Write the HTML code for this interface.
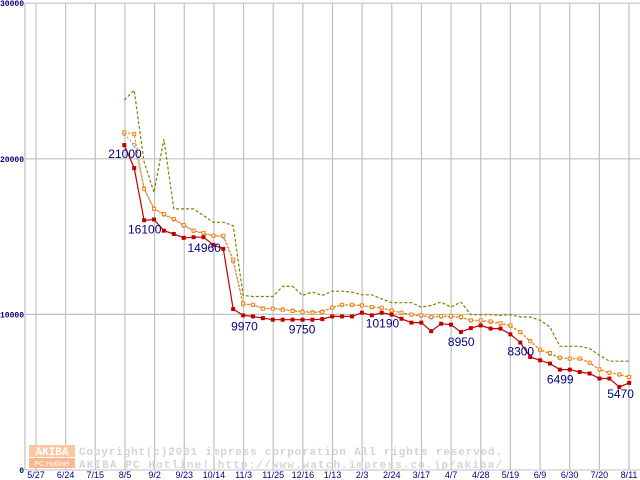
<!DOCTYPE html>
<html><head><meta charset="utf-8"><style>
body{margin:0;background:#fff;}
svg{display:block;}
</style></head><body>
<svg id="chart" width="640" height="480" xmlns="http://www.w3.org/2000/svg" font-family="Liberation Sans, sans-serif">
<g id="grid"></g>
<g id="wm">
  <rect x="29" y="445" width="46" height="12" fill="#f9c8a0"/>
  <text x="52" y="455" font-size="11" font-weight="bold" fill="#fff" text-anchor="middle" font-family="Liberation Mono, monospace">AKIBA</text>
  <rect x="29" y="458" width="46" height="10" fill="#f9b890"/>
  <text x="52" y="466" font-size="7" fill="#fff" text-anchor="middle">PC Hotline!</text>
  <text x="79" y="455" font-size="11" font-weight="bold" fill="#d4d4d4" font-family="Liberation Mono, monospace" textLength="423">Copyright(c)2001 impress corporation All rights reserved.</text>
  <text x="79" y="468" font-size="11" font-weight="bold" fill="#d4d4d4" font-family="Liberation Mono, monospace" textLength="423">AKIBA PC Hotline!  http://www.watch.impress.co.jp/akiba/</text>
</g>
<g id="series"></g>
<g id="labels"></g>
</svg>
<script>
const xTickLabels=["5/27","6/24","7/15","8/5","9/2","9/23","10/14","11/3","11/25","12/16","1/13","2/3","2/24","3/17","4/7","4/28","5/19","6/9","6/30","7/20","8/11"];
const yTicks=[0,10000,20000,30000];
const minPrice=[20880,19400,16050,16100,15380,15170,14920,14960,14960,14470,14210,10340,9940,9870,9760,9660,9660,9660,9660,9660,9700,9870,9870,9870,10110,9940,10110,9990,9720,9470,9470,8920,9400,9340,8870,9120,9290,9090,9090,8720,8190,7260,7050,6840,6450,6450,6300,6200,5880,5880,5340,5600];
const avgPrice=[21700,21600,18060,16780,16450,16130,15750,15380,15230,15060,15060,13520,10690,10620,10370,10370,10300,10220,10150,10110,10150,10430,10620,10620,10580,10470,10430,10260,10110,9990,9940,9830,9890,9890,9830,9620,9620,9550,9440,9290,8870,8270,7740,7520,7220,7160,7160,6900,6470,6260,6150,5980];
const midPrice=[21600,20900,18100,16800,16400,16100,15700,15350,15200,15050,15000,13400,10650,10600,10400,10380,10330,10250,10200,10150,10200,10450,10600,10600,10560,10450,10400,10240,10100,9970,9900,9800,9850,9850,9800,9600,9580,9500,9400,9250,8850,8300,7700,7450,7200,7150,7150,6880,6450,6250,6120,5960];
const maxPrice=[23780,24400,19800,17840,21260,16780,16780,16780,16350,15920,15920,15700,11220,11150,11150,11150,11800,11800,11220,11430,11220,11490,11490,11430,11260,11260,11000,10750,10750,10750,10470,10580,10790,10470,10790,9980,9980,9980,9940,9980,9830,9830,9620,9190,7950,7950,7950,7800,7370,6990,6990,6990];
const labelIdx=[0,3,8,12,16,25,34,39,44,51];
const labelText=["21000","16100","14960","9970","9750","10190","8950","8300","6499","5470"];

const NS="http://www.w3.org/2000/svg";
const X0=25,Y0=470,YTOP=3.2,YMAX=30000;
const gridX=i=>36+i*29.65;
const px=i=>124.3+i*9.9;
const py=v=>Y0-(v/YMAX)*(Y0-YTOP);
function mk(tag,attrs,parent){const e=document.createElementNS(NS,tag);for(const k in attrs)e.setAttribute(k,attrs[k]);parent.appendChild(e);return e;}
const grid=document.getElementById('grid');
xTickLabels.forEach((t,i)=>{
  const l=mk('line',{x1:gridX(i),x2:gridX(i),y1:YTOP,y2:Y0,stroke:'#c0c0c0','stroke-width':1.2},grid);
  
  
  const tx=mk('text',{x:gridX(i),y:478,'font-size':9,fill:'#000080','text-anchor':'middle'},grid);
  tx.textContent=t;
  
  
});
yTicks.forEach(v=>{
  if(v>0){
    const l=mk('line',{x1:X0,x2:640,y1:py(v),y2:py(v),stroke:'#c0c0c0','stroke-width':1.2},grid);
    
    
  }
  const tx=mk('text',{x:X0-1,y:py(v)+3,'font-size':8,'font-weight':'bold',fill:'#000080','text-anchor':'end','font-family':'Liberation Mono, monospace'},grid);
  tx.textContent=String(v);
  
  
});
const ax=mk('line',{x1:X0,x2:X0,y1:YTOP,y2:Y0,stroke:'#c0c0c0','stroke-width':1.2},grid);


const ax2=mk('line',{x1:X0,x2:640,y1:Y0,y2:Y0,stroke:'#c0c0c0','stroke-width':1},grid);



const sg=document.getElementById('series');
function series(data,color,dash,marker,name){
  const pts=data.map((v,i)=>px(i).toFixed(1)+','+py(v).toFixed(1)).join(' ');
  const pl=mk('polyline',{points:pts,fill:'none',stroke:color,'stroke-width':1.2,'stroke-dasharray':dash},sg);
  
  
  if(!marker)return;
  data.forEach((v,i)=>{
    let m;
    if(marker==='fill') m=mk('rect',{x:px(i)-2,y:py(v)-2,width:4,height:4,fill:color},sg);
    else if(marker==='open') m=mk('rect',{x:px(i)-1.5,y:py(v)-1.5,width:3,height:3,fill:'#fff',stroke:color,'stroke-width':1},sg);
    else m=mk('circle',{cx:px(i),cy:py(v),r:1.6,fill:'#fff',stroke:color,'stroke-width':1},sg);
    
    
  });
}
series(maxPrice,'#808000','3,2',null,'max-price');
series(midPrice,'#a0a0a0','2,2','circle','mid-price');
series(avgPrice,'#ff8000','2,2','open','avg-price');
series(minPrice,'#c00000','',  'fill','min-price');

const lg=document.getElementById('labels');
const offs=[[-16,13],[-26,14],[-16,15],[-12,15],[6,14],[-6,12],[-13,14],[-3,21],[-13,14],[-22,15]];
labelIdx.forEach((idx,k)=>{
  const t=mk('text',{x:px(idx)+offs[k][0],y:py(minPrice[idx])+offs[k][1],'font-size':12,fill:'#000080'},lg);
  t.textContent=labelText[k];
  
  
});
</script>
</body></html>
